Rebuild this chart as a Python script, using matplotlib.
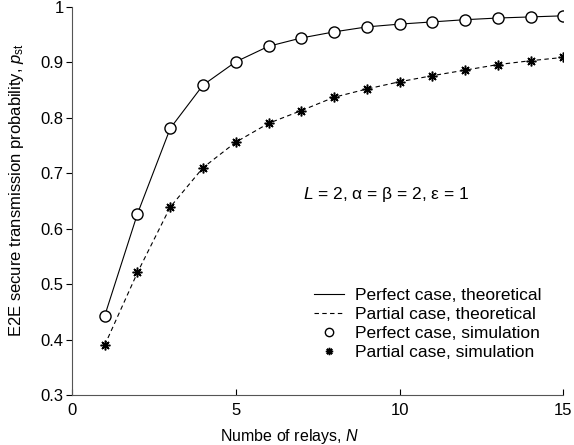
import numpy as np
import matplotlib
matplotlib.use("Agg")
import matplotlib.pyplot as plt

plt.rcParams["font.family"] = ["Liberation Sans", "DejaVu Sans"]
plt.rcParams["mathtext.fontset"] = "custom"
plt.rcParams["mathtext.rm"] = "Liberation Sans"
plt.rcParams["mathtext.it"] = "Liberation Sans:italic"
plt.rcParams["font.size"] = 12

# Data
relays = np.arange(1, 16)
perfect = [0.443, 0.627, 0.781, 0.859, 0.901, 0.929, 0.944, 0.955, 0.964,
           0.969, 0.973, 0.977, 0.980, 0.982, 0.984]
partial = [0.390, 0.521, 0.639, 0.710, 0.756, 0.790, 0.813, 0.837, 0.852,
           0.865, 0.876, 0.886, 0.896, 0.903, 0.909]

fig = plt.figure(figsize=(5.74, 4.45), dpi=100)
ax = fig.add_axes([0.1254, 0.1124, 0.856, 0.872])

ax.plot(relays, perfect, "k-", lw=0.8, label="Perfect case, theoretical")
ax.plot(relays, partial, "k--", lw=0.8, dashes=(4, 3), label="Partial case, theoretical")
ax.plot(relays, perfect, "ko", mfc="white", ms=8, mew=1.0, ls="none",
        label="Perfect case, simulation")
ax.plot(relays, partial, color="k", ms=7, mew=1.1, ls="none", marker=(8, 2, 0),
        label="Partial case, simulation")

ax.set_xlim(0, 15)
ax.set_ylim(0.3, 1)
ax.set_xticks([0, 5, 10, 15])
ax.set_yticks(np.arange(0.3, 1.01, 0.1))
ax.set_yticklabels(["0.3", "0.4", "0.5", "0.6", "0.7", "0.8", "0.9", "1"])
ax.tick_params(axis="x", direction="in", length=4, pad=5.5)
ax.tick_params(axis="y", direction="out", length=4, pad=2)
for s in ["top", "right"]:
    ax.spines[s].set_visible(False)
for s in ["left", "bottom"]:
    ax.spines[s].set_color("#555555")

ax.set_xlabel("Numbe of relays, $N$", labelpad=7, fontsize=11.5)
ax.xaxis.label.set_x(0.443)
ax.set_ylabel("E2E secure transmission probability, $p_{\\rm st}$")
ax.yaxis.set_label_coords(-0.094, 0.527)

ax.text(7.05, 0.661, "$L$ = 2, α = β = 2, ε = 1", va="center", ha="left",
        fontsize=12.5)

ax.legend(loc="lower right", frameon=False, fontsize=12.5, handlelength=1.7,
          borderaxespad=0.3, labelspacing=0.22, handletextpad=0.65,
          markerscale=0.75, bbox_to_anchor=(0.98, 0.059))

fig.savefig("out.png", dpi=100)
